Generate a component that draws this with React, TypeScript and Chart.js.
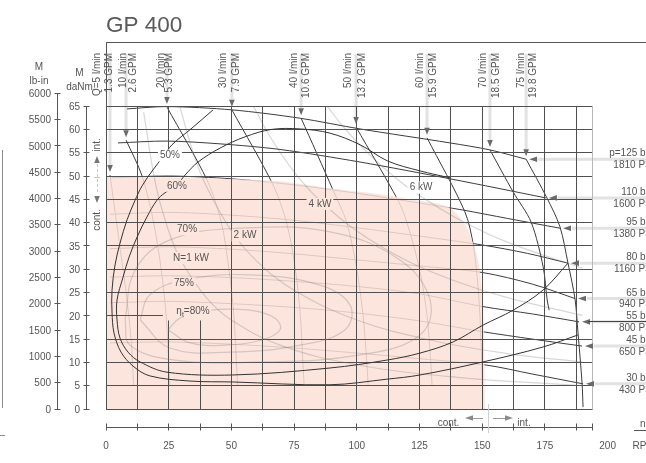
import { useEffect, useRef } from "react";
import { Chart, registerables } from "chart.js";

Chart.register(...registerables);

type Pt = [number, number];

const chartTitle = "GP 400";

// speed axis (rpm)
const speedLabels = [0, 25, 50, 75, 100, 125, 150, 175, 200];
const speedGrid = [0, 12.5, 25, 37.5, 50, 62.5, 75, 87.5, 100, 112.5, 125, 137.5, 150, 162.5, 175, 187.5];
const speedEnd = 194;
const speedMax = 215.3;

// torque axes
const torqueTicks = [0, 5, 10, 15, 20, 25, 30, 35, 40, 45, 50, 55, 60, 65];
const torqueMax = 78.76;
const lbInTicks = [0, 500, 1000, 1500, 2000, 2500, 3000, 3500, 4000, 4500, 5000, 5500, 6000];
const daNmPerLbIn = 0.0112985;

// pressure lines (bar / PSI), torque in daNm against speed in rpm
const pressureBar = [125, 110, 95, 80, 65, 55, 45, 30];
const pressurePsi = [1810, 1600, 1380, 1160, 940, 800, 650, 430];
const p125: Pt[] = [[8.4, 64.4], [24.3, 64.9], [50.2, 64.2], [77.4, 62.4], [101.3, 60.1], [137.2, 57.1], [153.1, 55.6], [167.5, 53.6]];
const p110: Pt[] = [[4.8, 57.1], [23.9, 57.5], [45.5, 56.9], [69.4, 55.7], [101.3, 53.0], [137.2, 49.4], [175.4, 45.3]];
const p95: Pt[] = [[1.6, 49.6], [25, 50], [50, 49.4], [75, 48.1], [100, 46.3], [125, 44.2], [142.3, 42.7], [160, 40.9], [181, 38.8]];
const p80: Pt[] = [[1.6, 41.8], [25, 42.2], [50, 41.6], [75, 40.5], [100, 38.9], [125, 37.1], [150, 35.2], [168, 33.4], [184.2, 31.3]];
const p65: Pt[] = [[1.6, 34.4], [25, 34.8], [50, 34.3], [75, 33.3], [100, 32.0], [125, 30.7], [150, 29.3], [170, 26.8], [187.0, 23.7]];
const p55: Pt[] = [[1.6, 28.3], [25, 28.6], [50, 28.2], [75, 27.4], [100, 26.3], [125, 24.7], [150, 22.0], [170, 20.4], [188.6, 18.7]];
const p45: Pt[] = [[1.6, 22.8], [25, 23.1], [50, 22.6], [75, 21.8], [100, 20.6], [125, 18.9], [150, 16.6], [170, 15.0], [189.8, 13.5]];
const p30: Pt[] = [[1.6, 14.2], [25, 14.4], [50, 13.9], [75, 13.1], [100, 12.0], [125, 10.8], [151.9, 9.4], [170, 7.5], [190.2, 5.4]];
const pressureLines = [p125, p110, p95, p80, p65, p55, p45, p30];

// flow lines (l/min and GPM)
const flowLpm = [5, 10, 20, 30, 40, 50, 60, 70, 75];
const flowGpm = ["1.3", "2.6", "5.3", "7.9", "10.6", "13.2", "15.9", "18.5", "19.8"];
const q5: Pt[] = [[1.6, 50.2], [3.2, 44], [5.5, 35], [8, 25], [10, 15], [11, 5]];
const q10: Pt[] = [[8.0, 57.7], [14.4, 50.0], [19, 40], [22, 30], [24, 20], [25, 10], [25.5, 5]];
const q20: Pt[] = [[24.3, 64.8], [40.3, 49.1], [46, 40], [49, 30], [51, 20], [52, 10], [52.5, 5]];
const q30: Pt[] = [[50.2, 64.2], [66.6, 48.1], [72, 40], [75.5, 30], [77.5, 20], [78.5, 10], [79, 5]];
const q40: Pt[] = [[77.8, 62.4], [90.5, 47.0], [96, 40], [100, 30], [102.5, 20], [104, 10], [104.5, 5]];
const q50: Pt[] = [[99.7, 60.5], [116.4, 44.8], [120, 40], [125, 30], [128, 20], [129.5, 10], [130, 5]];
const q60: Pt[] = [[128, 58.2], [143.1, 42.3], [146.5, 35], [148.5, 25], [149.5, 15], [150, 5]];
const q70: Pt[] = [[153.1, 55.6], [162.3, 46.6], [169.5, 40.1], [174.3, 30.5], [175.9, 23.4], [176.7, 21.2]];
const q75: Pt[] = [[167.5, 53.6], [175.8, 45.3], [181.0, 39.1], [184.2, 31.3], [187.0, 23.6], [188.2, 16.3], [189.8, 5.6], [190.2, 0.4]];
const flowLines = [q5, q10, q20, q30, q40, q50, q60, q70, q75];

// continuous duty area
const continuousEdge: Pt[] = [[0, 49.8], [13.6, 49.8], [37.5, 49.6], [69.4, 48.9], [89.3, 47.4], [109.3, 46.1], [124.0, 44.8], [133.2, 44.0], [138.4, 42.7], [143.9, 38.8], [147.9, 33.0], [149.9, 25.5], [150.7, 17.0], [151.1, 0]];

// output power
const power1kW: Pt[] = [[15, 63.7], [20, 47.7], [25, 38.2], [30, 31.8], [40, 23.9], [50, 19.1], [70, 13.6], [100, 9.5], [140, 6.8], [190, 5.0]];
const power2kW: Pt[] = [[29.4, 65], [35, 54.6], [40, 47.8], [50, 38.2], [60, 31.8], [75, 25.5], [100, 19.1], [130, 14.7], [160, 11.9], [190, 10.1]];
const power4kW: Pt[] = [[58.8, 65], [65, 58.8], [75, 50.9], [85, 44.9], [100, 38.2], [120, 31.8], [140, 27.3], [160, 23.9], [190, 20.1]];
const power6kW: Pt[] = [[88.2, 65], [95, 60.3], [105, 54.6], [115, 49.8], [125, 45.8], [140, 40.9], [160, 35.8], [190, 30.2]];
const powerLines = [power1kW, power2kW, power4kW, power6kW];

// total efficiency
const eff50: Pt[] = [[42.7, 64.2], [34.3, 60.3], [26.3, 56.7], [22.7, 54.1], [18.7, 51.3], [14.4, 47.9], [11.6, 44.8], [8.4, 40.6], [5.6, 35.6], [3.6, 30.9], [2.4, 25.5], [2.4, 20.8], [3.2, 16.3], [6.0, 12.2], [10.8, 9.2], [17.5, 7.1], [33.5, 6.0], [50.6, 5.8], [89.3, 5.2], [112.0, 6.4], [125.2, 7.3], [150.3, 10.1], [174.2, 13.3], [188.2, 15.9]];
const eff60: Pt[] = [[137.2, 49.6], [125.2, 51.1], [112.4, 53.2], [101.3, 56.7], [89.3, 59.2], [77.4, 60.1], [66.0, 60.0], [55.4, 58.4], [45.5, 56.0], [36.7, 53.0], [31.5, 50.2], [28.3, 48.1], [23.5, 46.4], [20.3, 44.8], [16.3, 41.2], [12.4, 36.9], [9.2, 32.6], [6.8, 28.3], [4.4, 23.4], [4.4, 19.1], [5.6, 15.2], [8.8, 12.2], [13.6, 10.1], [24.3, 7.9], [50.6, 7.3], [89.3, 8.8], [112.0, 10.5], [125.2, 12.0], [138.4, 14.4], [150.3, 18.0], [162.3, 21.2], [174.2, 25.5], [184.2, 31.3]];
const eff70: Pt[] = [[7.6, 19.1], [11.6, 29.8], [25.5, 36.3], [53.4, 38.8], [89.3, 38.0], [117.2, 32.0], [129.2, 23.4], [125.2, 15.9], [101.3, 11.6], [61.4, 10.1], [27.5, 10.5], [9.6, 13.7], [7.6, 19.1]];
const eff75: Pt[] = [[13.6, 19.1], [17.5, 24.5], [31.5, 27.7], [57.4, 28.8], [85.3, 26.6], [97.3, 22.3], [95.3, 17.0], [77.4, 13.7], [49.4, 12.2], [25.5, 13.1], [13.6, 19.1]];
const eff80: Pt[] = [[24.7, 17.0], [29.5, 19.5], [41.5, 21.2], [57.4, 21.2], [67.4, 19.5], [69.4, 17.0], [62.2, 14.8], [47.4, 13.7], [33.5, 14.2], [24.7, 17.0]];

// curve labels: text and anchor (rpm, daNm)
const curveLabels: { text: string; at: Pt; onPink: boolean }[] = [
  { text: "50%", at: [25.5, 54.4], onPink: false },
  { text: "60%", at: [28.3, 47.9], onPink: true },
  { text: "70%", at: [32.3, 38.6], onPink: true },
  { text: "2 kW", at: [55.4, 37.2], onPink: true },
  { text: "N=1 kW", at: [33.9, 32.4], onPink: true },
  { text: "75%", at: [31.1, 26.9], onPink: true },
  { text: "4 kW", at: [85.3, 44.0], onPink: true },
  { text: "6 kW", at: [125.6, 47.5], onPink: false },
];
const peakLabelAt: Pt = [34.7, 21.0];

const FONT = '"Liberation Sans", Arial, Helvetica, sans-serif';
const INK = "#555";
const LINE = "#3c3c3c";
const GRID = "#505050";
const GHOST = "rgba(110,110,110,0.28)";
const PINK = [251, 225, 215];
const PINK_ALPHA = 0.85;
const PINK_SOLID = `rgb(${PINK.map((c) => Math.round(c * PINK_ALPHA + 255 * (1 - PINK_ALPHA))).join(",")})`;

// horizontal placement of the two rotated text lines above each flow arrow (px from the arrow)
const flowTextShift: [number, number][] = [[-13, -0.5], [-3, 7.5], [-6, 2.5], [-8.5, 4.5], [-7, 5.5], [-7.5, 6], [-7, 6.5], [-6.5, 6], [-5, 7.5]];

const toXY = (pts: Pt[]) => pts.map(([x, y]) => ({ x, y }));
const f = (px: number) => `${px}px ${FONT}`;
const crisp = (v: number) => Math.round(v - 0.5) + 0.5;

const PINK_INDEX = pressureLines.length + flowLines.length;

function hLine(ctx: CanvasRenderingContext2D, x1: number, x2: number, y: number) {
  ctx.beginPath();
  ctx.moveTo(x1, crisp(y));
  ctx.lineTo(x2, crisp(y));
  ctx.stroke();
}
function vLine(ctx: CanvasRenderingContext2D, x: number, y1: number, y2: number) {
  ctx.beginPath();
  ctx.moveTo(crisp(x), y1);
  ctx.lineTo(crisp(x), y2);
  ctx.stroke();
}
function tri(ctx: CanvasRenderingContext2D, pts: number[]) {
  ctx.beginPath();
  ctx.moveTo(pts[0], pts[1]);
  ctx.lineTo(pts[2], pts[3]);
  ctx.lineTo(pts[4], pts[5]);
  ctx.closePath();
  ctx.fill();
}
const arrowDown = (c: CanvasRenderingContext2D, x: number, y: number) => tri(c, [x, y, x - 2.8, y - 7, x + 2.8, y - 7]);
const arrowUp = (c: CanvasRenderingContext2D, x: number, y: number) => tri(c, [x, y, x - 2.8, y + 7, x + 2.8, y + 7]);
const arrowLeft = (c: CanvasRenderingContext2D, x: number, y: number) => tri(c, [x, y, x + 8, y - 2.8, x + 8, y + 2.8]);
const arrowRight = (c: CanvasRenderingContext2D, x: number, y: number) => tri(c, [x, y, x - 8, y - 2.8, x - 8, y + 2.8]);

const decorations = {
  id: "decorations",
  beforeDatasetsDraw(chart: Chart) {
    const { ctx, chartArea: a } = chart;
    const sx = chart.scales.x;
    const sy = chart.scales.y;
    ctx.save();
    // faint leader bars from the labels to the arrows
    ctx.strokeStyle = "#e2e2e2";
    ctx.lineWidth = 3;
    flowLines.forEach((line) => {
      const px = sx.getPixelForValue(line[0][0]);
      const py = sy.getPixelForValue(line[0][1]);
      ctx.beginPath();
      ctx.moveTo(px, 54);
      ctx.lineTo(px, py - 10);
      ctx.stroke();
    });
    pressureLines.forEach((line) => {
      const end = line[line.length - 1];
      const px = sx.getPixelForValue(end[0]);
      const py = sy.getPixelForValue(end[1]);
      ctx.beginPath();
      ctx.moveTo(px + 12, py);
      ctx.lineTo(a.right + 20, py);
      ctx.stroke();
    });
    // frame
    ctx.strokeStyle = INK;
    ctx.lineWidth = 1;
    hLine(ctx, a.left, a.right, a.top);
    vLine(ctx, a.left, a.top, a.bottom);
    ctx.restore();
  },
  afterDatasetDraw(chart: Chart, args: { index: number }) {
    if (args.index !== PINK_INDEX) return;
    const { ctx } = chart;
    const sx = chart.scales.x;
    const sy = chart.scales.y;
    const X = (v: number) => sx.getPixelForValue(v);
    const Y = (v: number) => sy.getPixelForValue(v);
    ctx.save();
    ctx.strokeStyle = GRID;
    ctx.lineWidth = 1;
    torqueTicks.forEach((t) => {
      const end = t === 20 ? 22.7 : speedEnd;
      hLine(ctx, X(0), X(end), Y(t));
    });
    speedGrid.forEach((s) => {
      if (s === 25) {
        vLine(ctx, X(s), Y(65), Y(55.5));
        vLine(ctx, X(s), Y(19), Y(0));
      } else if (s === 37.5) {
        vLine(ctx, X(s), Y(19), Y(0));
      } else {
        vLine(ctx, X(s), Y(65), Y(0));
      }
    });
    ctx.strokeStyle = "#b8b8b8";
    vLine(ctx, X(speedEnd), Y(65), Y(0));
    ctx.restore();
  },
  afterDatasetsDraw(chart: Chart) {
    const { ctx, chartArea: a } = chart;
    const sx = chart.scales.x;
    const sy = chart.scales.y;
    const sl = chart.scales.lb;
    const X = (v: number) => sx.getPixelForValue(v);
    const Y = (v: number) => sy.getPixelForValue(v);
    ctx.save();

    // arrows at the flow lines
    ctx.fillStyle = "#6a6a6a";
    flowLines.forEach((line) => arrowDown(ctx, X(line[0][0]), Y(line[0][1]) - 3));
    // arrows at the pressure lines
    pressureLines.forEach((line, i) => {
      const end = line[line.length - 1];
      const px = X(end[0]) + 3;
      const py = Y(end[1]);
      ctx.fillStyle = "#6a6a6a";
      arrowLeft(ctx, px, py);
      if (pressureBar[i] === 55) {
        ctx.strokeStyle = "#444";
        ctx.lineWidth = 1;
        hLine(ctx, px + 6, a.right + 10, py);
      }
    });

    // curve labels
    ctx.font = f(10);
    ctx.textAlign = "center";
    ctx.textBaseline = "middle";
    curveLabels.forEach((l) => {
      const cx = X(l.at[0]);
      const cy = Y(l.at[1]);
      const w = ctx.measureText(l.text).width;
      ctx.fillStyle = l.onPink ? PINK_SOLID : "#fff";
      ctx.fillRect(cx - w / 2 - 2, cy - 6, w + 4, 12);
      ctx.fillStyle = INK;
      ctx.fillText(l.text, cx, cy);
    });
    {
      const cx = X(peakLabelAt[0]);
      const cy = Y(peakLabelAt[1]);
      ctx.textAlign = "left";
      const w1 = ctx.measureText("η").width;
      ctx.font = f(7);
      const w2 = ctx.measureText("t").width;
      ctx.font = f(10);
      const w3 = ctx.measureText("=80%").width;
      const total = w1 + w2 + w3;
      const x0 = cx - total / 2;
      ctx.fillStyle = PINK_SOLID;
      ctx.fillRect(x0 - 2, cy - 6, total + 4, 12);
      ctx.fillStyle = INK;
      ctx.fillText("η", x0, cy);
      ctx.font = f(7);
      ctx.fillText("t", x0 + w1, cy + 4);
      ctx.font = f(10);
      ctx.fillText("=80%", x0 + w1 + w2, cy);
    }

    // flow labels along the top
    ctx.font = f(10);
    ctx.fillStyle = INK;
    ctx.textAlign = "right";
    ctx.textBaseline = "middle";
    flowLines.forEach((line, i) => {
      const ax = X(line[0][0]);
      const lines = [`${i === 0 ? "Q=" : ""}${flowLpm[i]} l/min`, `${flowGpm[i]} GPM`];
      lines.forEach((t, k) => {
        ctx.save();
        ctx.translate(ax + flowTextShift[i][k], 53);
        ctx.rotate(-Math.PI / 2);
        ctx.fillText(t, 0, 0);
        ctx.restore();
      });
    });

    // pressure labels at the right
    ctx.textAlign = "right";
    pressureLines.forEach((line, i) => {
      const end = line[line.length - 1];
      const py = Y(end[1]);
      ctx.fillStyle = INK;
      ctx.fillText(`${i === 0 ? "p=" : ""}${pressureBar[i]} bar`, 654.5, py - 5.5);
      ctx.fillText(`${pressurePsi[i]} PSI`, 654.5, py + 6);
    });

    // title
    ctx.font = f(22.5);
    ctx.fillStyle = "#5a5a5a";
    ctx.textAlign = "left";
    ctx.textBaseline = "alphabetic";
    ctx.fillText(chartTitle, a.left, 32);

    // torque axis, daNm
    ctx.strokeStyle = INK;
    ctx.lineWidth = 1;
    ctx.fillStyle = INK;
    ctx.font = f(10);
    const axDaNm = 86.5;
    vLine(ctx, axDaNm, Y(65), Y(0));
    ctx.textAlign = "right";
    ctx.textBaseline = "middle";
    torqueTicks.forEach((t) => {
      hLine(ctx, axDaNm - 3, axDaNm + 3, Y(t));
      ctx.fillText(String(t), 80, Y(t) + 1);
    });
    ctx.textAlign = "center";
    ctx.fillText("M", 79.5, 73);
    ctx.fillText("daNm", 79.5, 87);

    // torque axis, lb-in
    const axLb = 57.5;
    vLine(ctx, axLb, sl.getPixelForValue(6000), Y(0));
    ctx.textAlign = "right";
    lbInTicks.forEach((t) => {
      const py = sl.getPixelForValue(t);
      hLine(ctx, axLb - 3, axLb + 3, py);
      ctx.fillText(String(t), 51, py + 1);
    });
    ctx.textAlign = "center";
    ctx.fillText("M", 39, 67);
    ctx.fillText("lb-in", 39, 81);

    // speed axis
    const axY = 427;
    hLine(ctx, X(0), X(speedEnd), axY);
    [...speedGrid, speedEnd].forEach((s) => vLine(ctx, X(s), axY - 3.5, axY + 3.5));
    ctx.textAlign = "center";
    ctx.textBaseline = "middle";
    speedLabels.forEach((s) => ctx.fillText(String(s), X(s), 446));
    ctx.textAlign = "left";
    ctx.fillText("RPM", 632.5, 446);
    ctx.fillText("n", 640, 424);
    hLine(ctx, 634, 660, 430);

    // continuous / intermittent markers on the speed axis
    const bx = 488;
    ctx.strokeStyle = "#d0d0d0";
    vLine(ctx, bx, 404, 433);
    ctx.strokeStyle = "#9a9a9a";
    hLine(ctx, bx - 20, bx - 5, 418);
    hLine(ctx, bx + 5, bx + 20, 418);
    ctx.fillStyle = "#8a8a8a";
    arrowLeft(ctx, bx - 23, 418);
    arrowRight(ctx, bx + 25, 418);
    ctx.fillStyle = INK;
    ctx.textAlign = "center";
    ctx.fillText("cont.", bx - 39.5, 423);
    ctx.fillText("int.", bx + 36, 423);

    // continuous / intermittent markers on the torque side
    const by = Y(continuousEdge[0][1]);
    const lx = 97;
    ctx.strokeStyle = "#c8c8c8";
    ctx.setLineDash([3, 2]);
    vLine(ctx, lx, by - 13, by + 17);
    ctx.setLineDash([]);
    hLine(ctx, lx - 3, lx + 3, by + 1);
    ctx.fillStyle = "#777";
    arrowUp(ctx, lx, by - 21);
    arrowDown(ctx, lx, by + 26);
    ctx.fillStyle = INK;
    [["int.", by - 32], ["cont.", by + 43]].forEach(([t, cy]) => {
      ctx.save();
      ctx.translate(lx, cy as number);
      ctx.rotate(-Math.PI / 2);
      ctx.textAlign = "center";
      ctx.fillText(t as string, 0, 0);
      ctx.restore();
    });

    // edge of the neighbouring frame
    ctx.strokeStyle = "#8c8c8c";
    vLine(ctx, 2, 150, 408);
    hLine(ctx, 0, 5, 435);

    ctx.restore();
  },
};

export default function App() {
  const ref = useRef<HTMLCanvasElement>(null);

  useEffect(() => {
    const canvas = ref.current;
    if (!canvas) return;

    const dark = (pts: Pt[]) => ({
      data: toXY(pts),
      showLine: true,
      borderColor: LINE,
      borderWidth: 1,
      pointRadius: 0,
      tension: 0.3,
      order: 10,
    });
    const ghost = (pts: Pt[]) => ({
      data: toXY(pts),
      showLine: true,
      borderColor: GHOST,
      borderWidth: 1.2,
      pointRadius: 0,
      tension: 0.4,
      order: 3,
    });

    const datasets: any[] = [
      ...pressureLines.map(dark),
      ...flowLines.map(dark),
      {
        data: toXY(continuousEdge),
        showLine: true,
        borderColor: "rgba(0,0,0,0)",
        borderWidth: 0,
        backgroundColor: `rgba(${PINK.join(",")},${PINK_ALPHA})`,
        fill: "origin",
        pointRadius: 0,
        tension: 0.25,
        order: 5,
      },
      ...powerLines.map(ghost),
      ...[eff70, eff75, eff80].map(ghost),
      ...[eff50, eff60].map((pts) => ({
        data: toXY(pts),
        showLine: true,
        borderColor: "#333",
        borderWidth: 1,
        pointRadius: 0,
        tension: 0.35,
        order: 1,
      })),
    ];

    const chart = new Chart(canvas, {
      type: "scatter",
      data: { datasets },
      options: {
        responsive: false,
        animation: false,
        events: [],
        layout: { padding: { left: 106, top: 42, right: 0, bottom: 54 } },
        scales: {
          x: { type: "linear", min: 0, max: speedMax, display: false },
          y: { type: "linear", min: 0, max: torqueMax, display: false },
          lb: { type: "linear", axis: "y", min: 0, max: torqueMax / daNmPerLbIn, display: false },
        },
        plugins: { legend: { display: false }, tooltip: { enabled: false } },
      },
      plugins: [decorations as any],
    });
    return () => chart.destroy();
  }, []);

  return (
    <div style={{ position: "fixed", left: 0, top: 0, width: 646, height: 463, overflow: "hidden", background: "#fff" }}>
      <canvas ref={ref} width={646} height={463} style={{ display: "block", width: 646, height: 463 }} />
    </div>
  );
}
